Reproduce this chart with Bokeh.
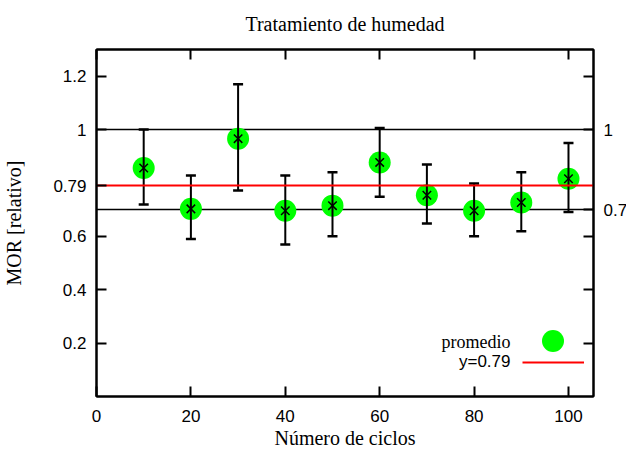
from bokeh.plotting import figure
from bokeh.models import (Range1d, LinearAxis, FixedTicker, Label, Legend, LegendItem, Title)
from bokeh.embed import file_html
from bokeh.resources import INLINE

# ---- data ----
cycles = [10, 20, 30, 40, 50, 60, 70, 80, 90, 100]
mor = [0.856, 0.703, 0.966, 0.696, 0.715, 0.877, 0.754, 0.696, 0.727, 0.816]
err_hi = [1.0, 0.828, 1.17, 0.828, 0.84, 1.006, 0.869, 0.798, 0.84, 0.95]
err_lo = [0.719, 0.59, 0.772, 0.569, 0.60, 0.748, 0.648, 0.60, 0.619, 0.691]
mean_value = [0.79]
ref_lines = [1.0, 0.7]
x_ticks = [0, 20, 40, 60, 80, 100]
y_ticks = [0.2, 0.4, 0.6, 0.79, 1.0, 1.2]
y_tick_labels = ["0.2", "0.4", "0.6", "0.79", "1", "1.2"]
y2_ticks = [0.7, 1.0]
y2_tick_labels = ["0.7", "1"]
y2_minor_ticks = [0.2, 0.4, 0.6, 1.2]
title_text = "Tratamiento de humedad"
x_label = "Número de ciclos"
y_label = "MOR [relativo]"
legend_labels = ["promedio", "y=0.79"]

SERIF = "Liberation Serif"
SANS = "Liberation Sans"

p = figure(x_range=Range1d(0, 105.3), y_range=Range1d(0, 1.3),
           frame_width=497, frame_height=347,
           min_border_left=0, min_border_right=0, min_border_top=0, min_border_bottom=0,
           output_backend="svg", toolbar_location=None,
           background_fill_color="white", border_fill_color="white")

p.xgrid.visible = False
p.ygrid.visible = False
p.outline_line_color = "black"
p.outline_line_width = 2

right = LinearAxis()
top = LinearAxis()
p.add_layout(right, "right")
p.add_layout(top, "above")

t = Title(text=title_text, align="center", vertical_align="top", text_font=SERIF,
          text_font_size="20px", text_font_style="normal", text_color="black", standoff=25)
p.add_layout(t, "above")

def style_axis(ax):
    ax.axis_line_color = "black"
    ax.axis_line_width = 2
    ax.major_tick_line_color = "black"
    ax.major_tick_line_width = 2
    ax.major_tick_in = 10
    ax.major_tick_out = 0
    ax.minor_tick_line_color = "black"
    ax.minor_tick_line_width = 2
    ax.minor_tick_in = 10
    ax.minor_tick_out = 0
    ax.major_label_text_font = SANS
    ax.major_label_text_font_size = "17px"
    ax.major_label_text_color = "black"
    ax.major_label_standoff = 10
    ax.axis_label_text_color = "black"

bottom = p.below[0]
left = p.left[0]
for ax in (bottom, left, right, top):
    style_axis(ax)

bottom.ticker = FixedTicker(ticks=x_ticks, minor_ticks=[])
bottom.major_label_standoff = 13
bottom.axis_label = x_label
bottom.axis_label_text_font = SERIF
bottom.axis_label_text_font_size = "20px"
bottom.axis_label_text_font_style = "normal"
bottom.axis_label_standoff = 2

top.ticker = FixedTicker(ticks=[], minor_ticks=x_ticks)
top.major_label_text_color = None
top.major_label_standoff = 0

left.ticker = FixedTicker(ticks=y_ticks, minor_ticks=[])
left.major_label_overrides = {v: s for v, s in zip(y_ticks, y_tick_labels)}
left.axis_label = y_label
left.axis_label_text_font = SERIF
left.axis_label_text_font_size = "20px"
left.axis_label_text_font_style = "normal"
left.axis_label_standoff = 25

right.ticker = FixedTicker(ticks=y2_ticks, minor_ticks=y2_minor_ticks)
right.major_label_overrides = {v: s for v, s in zip(y2_ticks, y2_tick_labels)}
right.major_label_standoff = 10

# reference lines (behind data)
p.hspan(y=ref_lines, line_color="black", line_width=1.5)

# data points
pts = p.scatter(cycles, mor, size=22, fill_color="#00ff00", line_color=None)
p.segment(x0=cycles, y0=err_lo, x1=cycles, y1=err_hi, line_color="black", line_width=2)
p.scatter(cycles, err_hi, marker="dash", size=10, line_color="black", line_width=2.5)
p.scatter(cycles, err_lo, marker="dash", size=10, line_color="black", line_width=2.5)
p.scatter(cycles, mor, marker="x", size=12, line_color="black", line_width=1.5)

# mean line (on top)
mean_r = p.hspan(y=mean_value, line_color="red", line_width=2)

# legend keys through bokeh Legend; texts as labels to the left of the keys
leg_common = dict(padding=0, margin=0, spacing=0, label_standoff=0, label_width=0,
                  label_height=0, label_text_color=None, border_line_alpha=0,
                  background_fill_alpha=0)
leg1 = Legend(items=[LegendItem(label="", renderers=[pts])], location=(429, 28),
              glyph_width=55, glyph_height=55, **leg_common)
leg2 = Legend(items=[LegendItem(label="", renderers=[mean_r])], location=(425.5, 29.3),
              glyph_width=62, glyph_height=10, **leg_common)
p.add_layout(leg1, "center")
p.add_layout(leg2, "center")

p.add_layout(Label(x=414, y=54.3, x_units="screen", y_units="screen", text=legend_labels[0],
                   text_font=SERIF, text_font_size="18px", text_align="right",
                   text_baseline="middle", text_color="black"))
p.add_layout(Label(x=414, y=35.3, x_units="screen", y_units="screen", text=legend_labels[1],
                   text_font=SANS, text_font_size="17px", text_align="right",
                   text_baseline="middle", text_color="black"))

open("out.html", "w").write(file_html(p, INLINE))
